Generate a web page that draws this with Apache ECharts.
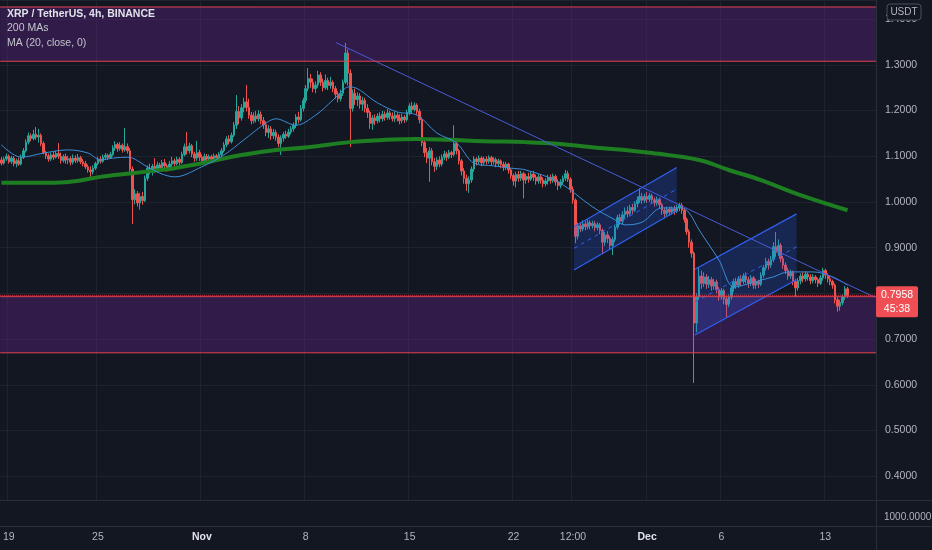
<!DOCTYPE html>
<html>
<head>
<meta charset="utf-8">
<script src="https://cdn.jsdelivr.net/npm/echarts@6/dist/echarts.min.js"></script>
<style>
  html, body { margin: 0; padding: 0; background: #131722; }
  #chart { width: 932px; height: 550px; }
</style>
</head>
<body>
<div id="chart"></div>
<script>
// 4h candles, Oct 18 12:00 -> Dec 14 12:00, [open, close, low, high]
const ohlc = [
  // 0-9
  [1.092,1.085,1.080,1.098],[1.085,1.094,1.082,1.099],[1.094,1.100,1.090,1.106],[1.100,1.088,1.084,1.104],[1.088,1.096,1.083,1.101],
  [1.096,1.084,1.078,1.100],[1.084,1.090,1.076,1.095],[1.090,1.083,1.079,1.097],[1.083,1.098,1.080,1.104],[1.098,1.112,1.094,1.118],
  // 10-19
  [1.112,1.131,1.108,1.137],[1.131,1.145,1.126,1.152],[1.145,1.139,1.133,1.150],[1.139,1.148,1.135,1.158],[1.148,1.142,1.136,1.164],
  [1.142,1.146,1.130,1.160],[1.146,1.128,1.122,1.150],[1.128,1.108,1.104,1.133],[1.108,1.101,1.094,1.112],[1.101,1.094,1.088,1.106],
  // 20-29
  [1.094,1.103,1.090,1.108],[1.103,1.098,1.092,1.110],[1.098,1.106,1.095,1.112],[1.106,1.100,1.094,1.129],[1.100,1.091,1.084,1.108],
  [1.091,1.099,1.086,1.104],[1.099,1.092,1.084,1.106],[1.092,1.095,1.083,1.101],[1.095,1.087,1.080,1.100],[1.087,1.096,1.082,1.104],
  // 30-39
  [1.096,1.091,1.085,1.102],[1.091,1.097,1.086,1.105],[1.097,1.088,1.083,1.101],[1.088,1.084,1.078,1.094],[1.084,1.077,1.072,1.090],
  [1.077,1.070,1.064,1.082],[1.070,1.066,1.053,1.078],[1.066,1.074,1.060,1.080],[1.074,1.084,1.070,1.088],[1.084,1.094,1.080,1.099],
  // 40-49
  [1.094,1.089,1.084,1.100],[1.089,1.098,1.086,1.104],[1.098,1.102,1.093,1.107],[1.102,1.097,1.092,1.106],[1.097,1.104,1.094,1.110],
  [1.104,1.118,1.100,1.124],[1.118,1.126,1.112,1.133],[1.126,1.117,1.110,1.130],[1.117,1.124,1.112,1.131],[1.124,1.114,1.108,1.128],
  // 50-59
  [1.114,1.121,1.110,1.162],[1.121,1.112,1.106,1.128],[1.112,1.072,1.066,1.118],[1.072,1.005,0.952,1.078],[1.005,1.018,0.995,1.028],
  [1.018,0.998,0.990,1.024],[0.998,1.012,0.983,1.020],[1.012,1.003,0.994,1.022],[1.003,1.052,1.000,1.058],[1.052,1.074,1.046,1.080],
  // 60-69
  [1.074,1.066,1.060,1.084],[1.066,1.078,1.058,1.083],[1.078,1.070,1.064,1.096],[1.070,1.081,1.066,1.088],[1.081,1.074,1.067,1.086],
  [1.074,1.086,1.070,1.092],[1.086,1.079,1.071,1.094],[1.079,1.072,1.066,1.084],[1.072,1.083,1.068,1.090],[1.083,1.090,1.077,1.099],
  // 70-79
  [1.090,1.084,1.078,1.095],[1.084,1.093,1.080,1.099],[1.093,1.087,1.081,1.098],[1.087,1.104,1.083,1.110],[1.104,1.121,1.100,1.128],
  [1.121,1.112,1.104,1.153],[1.112,1.123,1.106,1.130],[1.123,1.105,1.098,1.127],[1.105,1.096,1.088,1.110],[1.096,1.108,1.090,1.134],
  // 80-89
  [1.108,1.098,1.090,1.114],[1.098,1.090,1.082,1.104],[1.090,1.100,1.086,1.106],[1.100,1.094,1.088,1.105],[1.094,1.099,1.089,1.104],
  [1.099,1.093,1.088,1.103],[1.093,1.101,1.090,1.106],[1.101,1.097,1.092,1.105],[1.097,1.104,1.094,1.109],[1.104,1.112,1.100,1.118],
  // 90-99
  [1.112,1.125,1.108,1.131],[1.125,1.138,1.120,1.144],[1.138,1.132,1.126,1.146],[1.132,1.146,1.128,1.152],[1.146,1.168,1.142,1.175],
  [1.168,1.198,1.160,1.234],[1.198,1.184,1.170,1.210],[1.184,1.206,1.178,1.214],[1.206,1.219,1.196,1.228],[1.219,1.207,1.198,1.256],
  // 100-109
  [1.207,1.190,1.182,1.226],[1.190,1.178,1.170,1.197],[1.178,1.188,1.172,1.196],[1.188,1.182,1.174,1.199],[1.182,1.192,1.176,1.201],
  [1.192,1.178,1.170,1.198],[1.178,1.169,1.160,1.186],[1.169,1.152,1.144,1.176],[1.152,1.160,1.140,1.168],[1.160,1.145,1.136,1.166],
  // 110-119
  [1.145,1.152,1.138,1.160],[1.152,1.142,1.134,1.158],[1.142,1.128,1.120,1.148],[1.128,1.140,1.103,1.146],[1.140,1.148,1.132,1.153],
  [1.148,1.144,1.138,1.156],[1.144,1.153,1.140,1.160],[1.153,1.160,1.148,1.166],[1.160,1.168,1.154,1.174],[1.168,1.186,1.162,1.192],
  // 120-129
  [1.186,1.180,1.172,1.197],[1.180,1.205,1.176,1.212],[1.205,1.222,1.198,1.228],[1.222,1.248,1.216,1.256],[1.248,1.270,1.242,1.293],
  [1.270,1.262,1.250,1.280],[1.262,1.248,1.240,1.270],[1.248,1.256,1.238,1.264],[1.256,1.278,1.250,1.287],[1.278,1.262,1.254,1.284],
  // 130-139
  [1.262,1.250,1.242,1.270],[1.250,1.266,1.246,1.279],[1.266,1.255,1.245,1.272],[1.255,1.262,1.248,1.274],[1.262,1.248,1.240,1.266],
  [1.248,1.236,1.226,1.254],[1.236,1.226,1.218,1.242],[1.226,1.238,1.220,1.246],[1.238,1.262,1.232,1.268],[1.262,1.326,1.258,1.348],
  // 140-149
  [1.326,1.282,1.255,1.334],[1.282,1.205,1.120,1.290],[1.205,1.238,1.198,1.246],[1.238,1.224,1.212,1.248],[1.224,1.232,1.210,1.240],
  [1.232,1.214,1.204,1.238],[1.214,1.222,1.200,1.230],[1.222,1.205,1.196,1.228],[1.205,1.196,1.184,1.214],[1.196,1.172,1.160,1.200],
  // 150-159
  [1.172,1.184,1.158,1.190],[1.184,1.178,1.168,1.192],[1.178,1.188,1.172,1.194],[1.188,1.182,1.174,1.196],[1.182,1.192,1.176,1.199],
  [1.192,1.185,1.178,1.198],[1.185,1.195,1.180,1.204],[1.195,1.188,1.180,1.200],[1.188,1.182,1.176,1.196],[1.182,1.190,1.175,1.198],
  // 160-169
  [1.190,1.184,1.176,1.196],[1.184,1.178,1.170,1.192],[1.178,1.186,1.172,1.193],[1.186,1.180,1.173,1.190],[1.180,1.196,1.176,1.202],
  [1.196,1.210,1.190,1.216],[1.210,1.202,1.194,1.219],[1.202,1.212,1.198,1.218],[1.212,1.198,1.190,1.216],[1.198,1.180,1.172,1.204],
  // 170-179
  [1.180,1.130,1.122,1.185],[1.130,1.108,1.098,1.138],[1.108,1.096,1.085,1.118],[1.096,1.112,1.044,1.120],[1.112,1.088,1.080,1.118],
  [1.088,1.078,1.066,1.096],[1.078,1.092,1.070,1.098],[1.092,1.083,1.076,1.100],[1.083,1.098,1.078,1.104],[1.098,1.105,1.092,1.112],
  // 180-189
  [1.105,1.098,1.090,1.110],[1.098,1.108,1.094,1.114],[1.108,1.104,1.096,1.112],[1.104,1.128,1.100,1.168],[1.128,1.112,1.104,1.134],
  [1.112,1.090,1.082,1.116],[1.090,1.068,1.058,1.094],[1.068,1.052,1.040,1.074],[1.052,1.040,1.024,1.060],[1.040,1.048,1.020,1.056],
  // 190-199
  [1.048,1.072,1.042,1.078],[1.072,1.094,1.066,1.100],[1.094,1.088,1.080,1.098],[1.088,1.096,1.082,1.102],[1.096,1.086,1.078,1.100],
  [1.086,1.094,1.080,1.099],[1.094,1.089,1.082,1.100],[1.089,1.097,1.084,1.102],[1.097,1.088,1.080,1.101],[1.088,1.093,1.082,1.098],
  // 200-209
  [1.093,1.084,1.076,1.097],[1.084,1.090,1.078,1.095],[1.090,1.082,1.074,1.093],[1.082,1.076,1.068,1.088],[1.076,1.083,1.070,1.088],
  [1.083,1.070,1.062,1.086],[1.070,1.058,1.050,1.074],[1.058,1.046,1.036,1.062],[1.046,1.060,1.032,1.066],[1.060,1.052,1.044,1.068],
  // 210-219
  [1.052,1.062,1.046,1.068],[1.062,1.048,1.008,1.066],[1.048,1.056,1.040,1.062],[1.056,1.050,1.042,1.064],[1.050,1.061,1.046,1.066],
  [1.061,1.054,1.046,1.068],[1.054,1.046,1.038,1.060],[1.046,1.055,1.040,1.061],[1.055,1.048,1.040,1.060],[1.048,1.040,1.032,1.054],
  // 220-229
  [1.040,1.046,1.034,1.052],[1.046,1.054,1.038,1.060],[1.054,1.047,1.040,1.060],[1.047,1.056,1.042,1.062],[1.056,1.044,1.036,1.060],
  [1.044,1.036,1.026,1.050],[1.036,1.044,1.030,1.050],[1.044,1.052,1.038,1.058],[1.052,1.062,1.046,1.070],[1.062,1.050,1.044,1.068],
  // 230-239
  [1.050,1.028,1.020,1.054],[1.028,1.004,0.996,1.034],[1.004,0.925,0.910,1.008],[0.925,0.948,0.918,0.955],[0.948,0.941,0.934,0.956],
  [0.941,0.952,0.936,0.960],[0.952,0.946,0.938,0.958],[0.946,0.955,0.940,0.962],[0.955,0.948,0.940,0.960],[0.948,0.953,0.942,0.959],
  // 240-249
  [0.953,0.944,0.936,0.958],[0.944,0.950,0.938,0.956],[0.950,0.938,0.930,0.954],[0.938,0.912,0.886,0.942],[0.912,0.928,0.904,0.934],
  [0.928,0.920,0.910,0.936],[0.920,0.905,0.896,0.926],[0.905,0.918,0.884,0.924],[0.918,0.945,0.912,0.950],[0.945,0.966,0.940,0.972],
  // 250-259
  [0.966,0.958,0.950,0.974],[0.958,0.972,0.952,0.980],[0.972,0.980,0.964,0.988],[0.980,0.974,0.966,0.990],[0.974,0.988,0.970,0.994],
  [0.988,0.982,0.974,0.996],[0.982,0.996,0.978,1.002],[0.996,1.004,0.988,1.012],[1.004,1.012,0.998,1.030],[1.012,1.004,0.996,1.020],
  // 260-269
  [1.004,1.012,0.998,1.018],[1.012,1.006,0.998,1.022],[1.006,1.014,1.000,1.020],[1.014,1.005,0.996,1.018],[1.005,0.998,0.990,1.010],
  [0.998,1.006,0.992,1.012],[1.006,0.994,0.986,1.010],[0.994,0.982,0.972,0.998],[0.982,0.975,0.966,0.988],[0.975,0.984,0.968,0.990],
  // 270-279
  [0.984,0.978,0.970,0.990],[0.978,0.985,0.972,0.990],[0.985,0.980,0.972,0.992],[0.980,0.988,0.976,0.994],[0.988,0.993,0.980,0.998],
  [0.993,0.982,0.974,0.998],[0.982,0.962,0.955,0.986],[0.962,0.935,0.928,0.966],[0.935,0.912,0.900,0.940],[0.912,0.888,0.878,0.918],
  // 280-289
  [0.888,0.735,0.604,0.892],[0.735,0.792,0.715,0.800],[0.792,0.838,0.786,0.858],[0.838,0.822,0.810,0.850],[0.822,0.836,0.814,0.846],
  [0.836,0.820,0.810,0.842],[0.820,0.830,0.812,0.838],[0.830,0.816,0.806,0.836],[0.816,0.825,0.808,0.832],[0.825,0.808,0.800,0.830],
  // 290-299
  [0.808,0.792,0.784,0.814],[0.792,0.806,0.786,0.812],[0.806,0.788,0.776,0.810],[0.788,0.776,0.748,0.794],[0.776,0.792,0.770,0.798],
  [0.792,0.812,0.786,0.818],[0.812,0.826,0.804,0.832],[0.826,0.818,0.810,0.834],[0.818,0.832,0.812,0.838],[0.832,0.826,0.816,0.840],
  // 300-309
  [0.826,0.838,0.820,0.844],[0.838,0.830,0.822,0.846],[0.830,0.822,0.812,0.836],[0.822,0.834,0.816,0.840],[0.834,0.818,0.810,0.838],
  [0.818,0.826,0.810,0.832],[0.826,0.820,0.812,0.830],[0.820,0.840,0.816,0.846],[0.840,0.856,0.834,0.862],[0.856,0.870,0.850,0.878],
  // 310-319
  [0.870,0.862,0.852,0.876],[0.862,0.874,0.856,0.882],[0.874,0.902,0.868,0.912],[0.902,0.890,0.880,0.934],[0.890,0.905,0.882,0.918],
  [0.905,0.876,0.868,0.910],[0.876,0.862,0.854,0.882],[0.862,0.850,0.842,0.868],[0.850,0.838,0.830,0.856],[0.838,0.846,0.832,0.852],
  // 320-329
  [0.846,0.826,0.818,0.850],[0.826,0.812,0.792,0.832],[0.812,0.828,0.806,0.834],[0.828,0.838,0.820,0.844],[0.838,0.832,0.824,0.846],
  [0.832,0.842,0.826,0.848],[0.842,0.836,0.828,0.846],[0.836,0.828,0.820,0.842],[0.828,0.836,0.822,0.842],[0.836,0.830,0.822,0.840],
  // 330-339
  [0.830,0.822,0.814,0.834],[0.822,0.834,0.818,0.840],[0.834,0.850,0.828,0.856],[0.850,0.840,0.832,0.854],[0.840,0.832,0.824,0.844],
  [0.832,0.826,0.818,0.838],[0.826,0.818,0.810,0.830],[0.818,0.786,0.778,0.822],[0.786,0.772,0.760,0.792],[0.772,0.780,0.762,0.786],
  // 340-342
  [0.780,0.792,0.774,0.798],[0.792,0.810,0.786,0.816],[0.810,0.7958,0.790,0.814]
];

// MA(20), [candle index, price]
const ma20 = [
  [0,1.125],[8,1.098],[17,1.107],[27,1.114],[35,1.107],[40,1.092],[45,1.096],[51,1.098],[59,1.077],[64,1.063],
  [70,1.055],[81,1.077],[90,1.103],[98,1.136],[107,1.173],[111,1.182],[119,1.168],[127,1.190],[134,1.223],[139,1.249],
  [141,1.252],[152,1.217],[160,1.197],[168,1.190],[176,1.151],[184,1.129],[191,1.085],[199,1.079],[206,1.074],[212,1.070],
  [225,1.044],[239,0.989],[248,0.961],[252,0.950],[259,0.956],[267,0.987],[275,0.987],[278,0.976],[282,0.939],[290,0.873],
  [296,0.814],[300,0.818],[307,0.829],[312,0.836],[318,0.847],[328,0.847],[336,0.836],[342,0.818]
];

// 200 MA (green), [candle index, price]
const ma200 = [
  [0,1.042],[13,1.042],[27,1.044],[40,1.055],[53,1.063],[64,1.070],[70,1.074],[84,1.088],[97,1.103],[111,1.114],
  [124,1.120],[141,1.131],[155,1.136],[168,1.138],[181,1.136],[195,1.133],[212,1.131],[226,1.127],[242,1.118],[252,1.114],
  [263,1.107],[282,1.092],[294,1.070],[307,1.048],[323,1.015],[342,0.982]
];

// drawings
const trendLine = [[135.3,1.3486],[353,0.7915]];
// parallel channels: [leftIdx, leftTop, leftBottom, rightIdx, rightTop, rightBottom]
const channels = [
  [231.4,0.946,0.851,273.0,1.0757,0.981],
  [280.3,0.853,0.709,321.4,0.974,0.830]
];
const zoneTop = [1.308, 1.4267];
const zoneBottom = [0.670, 0.7928];

const tickIndex = [3, 39, 81, 123, 165, 207, 231, 261, 291, 333];
const tickText = ['19', '25', 'Nov', '8', '15', '22', '12:00', 'Dec', '6', '13'];
const lastPrice = 0.7958;
const countdown = '45:38';

const slots = 354; // 343 candles + empty space on the right
const cats = Array.from({ length: slots }, (_, i) => String(i));
const candles = ohlc.concat(Array(slots - ohlc.length).fill('-'));
const showTick = (i) => tickIndex.indexOf(i) >= 0;

// horizontal level drawn across the whole pane
const level = (v, color, type) => ({
  type: 'line',
  xAxisIndex: 1,
  data: [[-0.5, v], [slots - 0.5, v]],
  symbol: 'none',
  silent: true,
  z: 6,
  lineStyle: { color: color, width: 1, type: type || 'solid' }
});
const zoneRed = '#e2434e';

const chart = echarts.init(document.getElementById('chart'), null, { renderer: 'canvas' });

chart.setOption({
  backgroundColor: '#131722',
  animation: false,
  grid: { left: 0, right: 56, top: 0, bottom: 50 },
  xAxis: [
    {
      type: 'category',
      data: cats,
      boundaryGap: true,
      axisLine: { show: false },
      axisTick: { show: false },
      axisLabel: {
        interval: (i) => showTick(i),
        margin: 32,
        color: '#b2b5be',
        fontSize: 10.5,
        fontFamily: 'Liberation Sans',
        formatter: (v) => {
          const t = tickText[tickIndex.indexOf(+v)] || '';
          return (t === 'Nov' || t === 'Dec') ? '{m|' + t + '}' : t;
        },
        rich: { m: { color: '#e0e3eb', fontWeight: 'bold', fontSize: 10.5, fontFamily: 'Liberation Sans' } }
      },
      splitLine: { show: true, interval: (i) => showTick(i), lineStyle: { color: '#1f232e', width: 1 } }
    },
    { type: 'value', min: -0.5, max: slots - 0.5, show: false }
  ],
  yAxis: {
    type: 'value',
    position: 'right',
    min: 0.3479,
    max: 1.442,
    splitNumber: 11,
    axisLine: { show: false },
    axisTick: { show: false },
    axisLabel: {
      showMinLabel: false,
      showMaxLabel: false,
      margin: 9,
      color: '#b2b5be',
      fontSize: 10.5,
      fontFamily: 'Liberation Sans',
      formatter: (v) => v.toFixed(4)
    },
    splitLine: { lineStyle: { color: '#1f232e', width: 1 } }
  },
  series: [
    {
      type: 'candlestick',
      data: candles,
      barWidth: 2,
      itemStyle: { color: '#26a69a', color0: '#ef5350', borderColor: '#26a69a', borderColor0: '#ef5350', borderWidth: 1 },
      markArea: {
        silent: true,
        itemStyle: { color: 'rgba(103,36,140,0.36)' },
        data: [
          [{ yAxis: zoneTop[0] }, { yAxis: zoneTop[1] }],
          [{ yAxis: zoneBottom[0] }, { yAxis: zoneBottom[1] }]
        ]
      }
    },
    level(zoneTop[0], zoneRed), level(zoneTop[1], zoneRed),
    level(zoneBottom[0], zoneRed), level(zoneBottom[1], zoneRed),
    level(lastPrice, '#f23645', 'dotted'),
    {
      name: '200 MAs',
      type: 'line',
      xAxisIndex: 1,
      data: ma200,
      smooth: 0.4,
      symbol: 'none',
      z: 4,
      lineStyle: { color: '#1e7e22', width: 4 }
    },
    {
      name: 'MA (20, close, 0)',
      type: 'line',
      xAxisIndex: 1,
      data: ma20,
      smooth: 0.35,
      symbol: 'none',
      z: 5,
      lineStyle: { color: '#3b8ed8', width: 1 }
    },
    {
      type: 'line',
      xAxisIndex: 1,
      data: trendLine,
      symbol: 'none',
      z: 5,
      lineStyle: { color: '#4a5ad8', width: 1 }
    },
    {
      type: 'custom',
      xAxisIndex: 1,
      data: channels,
      z: 3,
      encode: { x: [0, 3], y: [1, 2, 4, 5] },
      renderItem: (params, api) => {
        const lt = api.coord([api.value(0), api.value(1)]);
        const lb = api.coord([api.value(0), api.value(2)]);
        const rt = api.coord([api.value(3), api.value(4)]);
        const rb = api.coord([api.value(3), api.value(5)]);
        const ml = [lt[0], (lt[1] + lb[1]) / 2];
        const mr = [rt[0], (rt[1] + rb[1]) / 2];
        const blue = '#3060f2';
        return {
          type: 'group',
          children: [
            { type: 'polygon', shape: { points: [lt, rt, rb, lb] }, style: { fill: 'rgba(41,98,255,0.22)' } },
            { type: 'line', shape: { x1: lt[0], y1: lt[1], x2: rt[0], y2: rt[1] }, style: { stroke: blue, lineWidth: 1.2 } },
            { type: 'line', shape: { x1: lb[0], y1: lb[1], x2: rb[0], y2: rb[1] }, style: { stroke: blue, lineWidth: 1.2 } },
            { type: 'line', shape: { x1: ml[0], y1: ml[1], x2: mr[0], y2: mr[1] }, style: { stroke: blue, lineWidth: 1, lineDash: [4, 4] } }
          ]
        };
      }
    }
  ]
});

// overlays: legend text, panes, price badge
const py = chart.convertToPixel({ yAxisIndex: 0 }, lastPrice);
const font = (s, w) => (w || '') + ' ' + s + 'px "Liberation Sans"';
const txt = (x, y, text, extra) => ({
  type: 'text', x: x, y: y, z: 40,
  style: Object.assign({ text: text, fill: '#d1d4dc', font: font(10.5), textVerticalAlign: 'middle' }, extra || {})
});

chart.setOption({
  graphic: [
    txt(7, 14, 'XRP / TetherUS, 4h, BINANCE', { font: font(10.5, 'bold'), fill: '#e0e3eb' }),
    txt(7, 28, '200 MAs', { fill: '#c3c6ce' }),
    txt(7, 43, 'MA (20, close, 0)', { fill: '#c3c6ce' }),
    { type: 'line', z: 40, shape: { x1: 876.5, y1: 0, x2: 876.5, y2: 550 }, style: { stroke: '#2a2e39', lineWidth: 1 } },
    { type: 'line', z: 40, shape: { x1: 0, y1: 500.5, x2: 932, y2: 500.5 }, style: { stroke: '#2a2e39', lineWidth: 1 } },
    { type: 'line', z: 40, shape: { x1: 0, y1: 526.5, x2: 932, y2: 526.5 }, style: { stroke: '#2a2e39', lineWidth: 1 } },
    txt(884, 517, '1000.0000', { fill: '#b2b5be', font: font(10) }),
    { type: 'rect', z: 50, shape: { x: 887, y: 4, width: 34, height: 16, r: 3 }, style: { fill: '#131722', stroke: '#4a4e5a', lineWidth: 1 } },
    { type: 'text', z: 51, x: 904, y: 12, style: { text: 'USDT', fill: '#b2b5be', font: font(10), textAlign: 'center', textVerticalAlign: 'middle' } },
    { type: 'rect', z: 50, shape: { x: 876, y: py - 9, width: 42, height: 31, r: 2 }, style: { fill: '#ef4f54' } },
    { type: 'text', z: 51, x: 897, y: py, style: { text: lastPrice.toFixed(4), fill: '#ffffff', font: font(10.5), textAlign: 'center', textVerticalAlign: 'middle' } },
    { type: 'text', z: 51, x: 897, y: py + 14, style: { text: countdown, fill: '#ffffff', font: font(10.5), textAlign: 'center', textVerticalAlign: 'middle' } }
  ]
});
</script>
</body>
</html>
